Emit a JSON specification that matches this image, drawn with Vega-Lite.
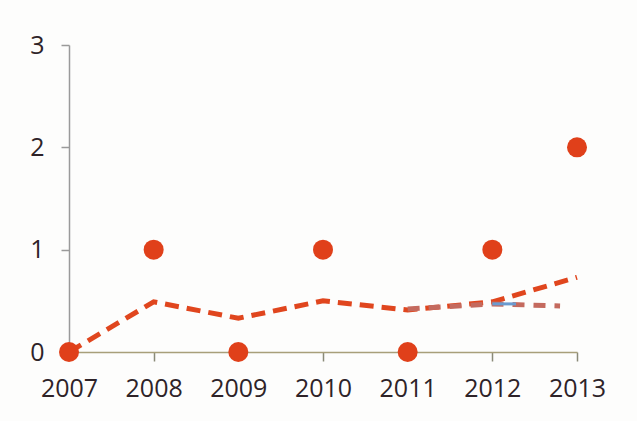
{
  "$schema": "https://vega.github.io/schema/vega-lite/v6.json",
  "width": 508,
  "height": 307,
  "autosize": "none",
  "padding": {"left": 69, "top": 45, "right": 60, "bottom": 69},
  "background": "#fdfdfc",
  "config": {
    "view": {"stroke": null},
    "axis": {"grid": false, "labelFont": "Open Sans", "labelFontSize": 25, "labelColor": "#2e2328", "title": null}
  },
  "datasets": {
    "points": [
      {"year": 2007, "value": 0},
      {"year": 2008, "value": 1},
      {"year": 2009, "value": 0},
      {"year": 2010, "value": 1},
      {"year": 2011, "value": 0},
      {"year": 2012, "value": 1},
      {"year": 2013, "value": 2}
    ],
    "avg": [
      {"year": 2007, "value": 0},
      {"year": 2008, "value": 0.49},
      {"year": 2009, "value": 0.33},
      {"year": 2010, "value": 0.5},
      {"year": 2011, "value": 0.41},
      {"year": 2012, "value": 0.49},
      {"year": 2013, "value": 0.73}
    ],
    "gray": [
      {"year": 2011, "value": 0.42},
      {"year": 2012, "value": 0.47},
      {"year": 2012.8, "value": 0.45}
    ],
    "blue": [
      {"year": 2012, "value": 0.47},
      {"year": 2012.28, "value": 0.47}
    ]
  },
  "encoding": {
    "x": {"field": "year", "type": "quantitative", "scale": {"domain": [2007, 2013], "nice": false, "zero": false},
          "axis": {"values": [2007, 2008, 2009, 2010, 2011, 2012, 2013], "format": "d", "ticks": true, "tickSize": 9, "tickWidth": 1.5,
                   "tickColor": {"condition": {"test": "datum.value == 2008 || datum.value == 2010 || datum.value == 2012 || datum.value == 2013", "value": "#8a8a78"}, "value": "transparent"},
                   "labelPadding": 15, "domainColor": "#a89f7a", "domainWidth": 1.5, "labelFlush": false}},
    "y": {"field": "value", "type": "quantitative", "scale": {"domain": [0, 3], "nice": false},
          "axis": {"values": [0, 1, 2, 3], "format": "d", "domainColor": "#9a9a9a", "tickColor": "#9a9a9a", "tickSize": 8, "labelPadding": 17, "domainWidth": 1.5, "tickWidth": 1.5}}
  },
  "layer": [
    {
      "data": {"name": "avg"},
      "mark": {"type": "line", "color": "#e0461e", "strokeWidth": 5, "strokeDash": [14, 8]}
    },
    {
      "data": {"name": "gray"},
      "mark": {"type": "line", "color": "#c46a5e", "strokeWidth": 5, "strokeDash": [12, 9]}
    },
    {
      "data": {"name": "blue"},
      "mark": {"type": "line", "color": "#6a9bd0", "strokeWidth": 3}
    },
    {
      "data": {"name": "points"},
      "mark": {"type": "circle", "color": "#e0401a", "size": 400, "opacity": 1}
    }
  ]
}
